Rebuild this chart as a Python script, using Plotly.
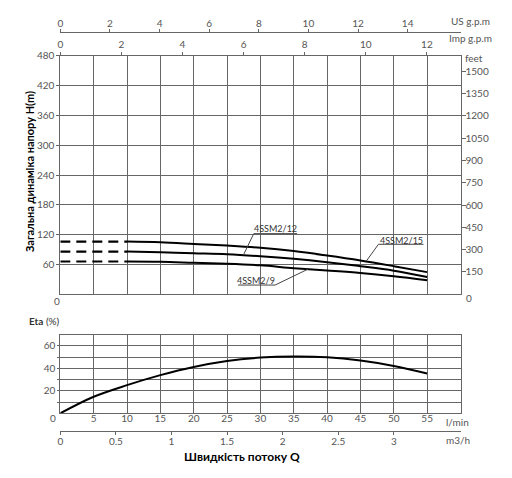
import plotly.graph_objects as go

W, H = 512, 478

# Pump head curves: flow in l/min, head in m
flow = [0, 10, 15, 20, 25, 30, 35, 40, 45, 50, 55]
head_15 = [106, 106, 104.6, 101.4, 98, 93.6, 87, 78, 68, 56.6, 44.6]
head_12 = [86, 86, 84.6, 82.6, 80.6, 76.6, 71.4, 64.6, 56.6, 47.6, 35]
head_9 = [66, 66, 65.4, 63.4, 61.4, 58.2, 52.6, 48, 43, 36.4, 28.4]
n_dashed = 2  # first two points (0..10 l/min) are drawn dashed

# Efficiency curve
eta_flow = [0, 5, 10, 15, 20, 25, 30, 35, 40, 45, 50, 55]
eta = [0, 14.7, 25, 33.9, 41.2, 46.5, 49.5, 50.5, 49.8, 46.9, 42.1, 35.4]

# curve labels: name, text position, leader line (l/min, m)
model_names = ["4SSM2/15", "4SSM2/12", "4SSM2/9"]
label_pos = [(51.2, 109), (32.3, 132), (29.4, 28.6)]
leader_x = [[54.45, 47.7, 45.9], [35.5, 29.0, 27.45], [26.65, 32.2, 37.1]]
leader_y = [[100.6, 100.6, 67.2], [122, 122, 78.8], [18.6, 18.6, 50.4]]

# tick values
head_ticks = [60, 120, 180, 240, 300, 360, 420, 480]
feet_ticks = [150, 300, 450, 600, 750, 900, 1050, 1200, 1350, 1500]
us_ticks = [0, 2, 4, 6, 8, 10, 12, 14]
imp_ticks = [0, 2, 4, 6, 8, 10, 12]
lpm_ticks = [5, 10, 15, 20, 25, 30, 35, 40, 45, 50, 55]
eta_ticks = [10, 20, 30, 40, 50, 60]
eta_text = ["", "20", "", "40", "", "60"]
m3h_ticks = [0, 0.5, 1, 1.5, 2, 2.5, 3]

# unit scales as drawn on the chart
LPM_PER_US_GPM = 3.72
LPM_PER_IMP_GPM = 4.58
FT_PER_M = 3.34
LPM_PER_M3H = 16.667
Q_MAX = 60


def px(x):
    return x / W


def py(y):
    return 1 - y / H


X_DOM = [px(60.3), px(460.5)]
Y_TOP = [py(294.3), py(55.7)]
Y_BOT = [py(413.3), py(334.5)]

GRID = "#666"
LINE = "#666"
TXT = "#555"
FONT = "Lato, sans-serif"
tickfont = dict(family=FONT, size=10, color=TXT)

fig = go.Figure()

for h in [head_15, head_12, head_9]:
    fig.add_trace(go.Scatter(x=flow[:n_dashed], y=h[:n_dashed], mode="lines",
                             line=dict(color="black", width=2.2, dash="10px,6px"),
                             xaxis="x", yaxis="y", hoverinfo="skip"))
    fig.add_trace(go.Scatter(x=flow[n_dashed - 1:], y=h[n_dashed - 1:], mode="lines",
                             line=dict(color="black", width=2, shape="spline"),
                             xaxis="x", yaxis="y", hoverinfo="skip"))

for lx, ly in zip(leader_x, leader_y):
    fig.add_trace(go.Scatter(x=lx, y=ly, mode="lines", line=dict(color="#444", width=1),
                             xaxis="x", yaxis="y", hoverinfo="skip"))

fig.add_trace(go.Scatter(x=eta_flow, y=eta, mode="lines",
                         line=dict(color="black", width=2, shape="spline"),
                         xaxis="x2", yaxis="y3", hoverinfo="skip"))

# invisible traces so the secondary unit axes get drawn
for xa, ya in [("x3", "y"), ("x4", "y"), ("x", "y2"), ("x5", "y3")]:
    fig.add_trace(go.Scatter(x=[0], y=[0], mode="markers", marker=dict(opacity=0),
                             xaxis=xa, yaxis=ya, hoverinfo="skip"))

annotations = []
for name, (tx, ty) in zip(model_names, label_pos):
    annotations.append(dict(x=tx, y=ty, xref="x", yref="y", text=name, showarrow=False,
                            xanchor="center", yanchor="middle",
                            font=dict(family=FONT, size=9, color="#333")))


def note(text, x, y, size=10, color=TXT, **kw):
    annotations.append(dict(x=px(x), y=py(y), xref="paper", yref="paper", text=text,
                            showarrow=False, xanchor="center", yanchor="middle",
                            font=dict(family=FONT, size=size, color=color), **kw))


note("<b>Загальна динаміка напору H(m)</b>", 30, 172, size=11, color="black",
     textangle=-90)
note("0", 56.7, 300.7)
note("0", 469, 298)
note("feet", 474, 57.5)
note("US g.p.m", 470, 21)
note("Imp g.p.m", 470, 38)
note("<b>Eta</b> (%)", 44.5, 321, color="#333")
note("0", 53.3, 418.3)
note("l/min", 457, 421.7)
note("m3/h", 458, 440)
note("<b>Швидкість потоку Q</b>", 241.7, 456.7, size=12, color="black")

common = dict(automargin=False, zeroline=False, tickfont=tickfont, tickcolor=LINE)

fig.update_layout(
    width=W, height=H, autosize=False,
    margin=dict(l=0, r=0, t=0, b=0, pad=0),
    paper_bgcolor="white", plot_bgcolor="white",
    showlegend=False,
    annotations=annotations,
    xaxis=dict(domain=X_DOM, range=[0, Q_MAX], anchor="y", tick0=0, dtick=5,
               showgrid=True, gridcolor=GRID, gridwidth=1, showticklabels=False,
               showline=True, linecolor=LINE, mirror=True, ticks="", **common),
    yaxis=dict(domain=Y_TOP, range=[0, 480], anchor="x", tickvals=head_ticks,
               showgrid=True, gridcolor=GRID, showline=True, linecolor=LINE, mirror=True,
               ticks="outside", ticklen=3, **common),
    xaxis3=dict(overlaying="x", side="top", anchor="y", range=[0, Q_MAX / LPM_PER_IMP_GPM],
                tickvals=imp_ticks, ticks="outside", ticklen=3,
                showgrid=False, showline=False, **common),
    xaxis4=dict(overlaying="x", side="top", anchor="free", position=py(31.7),
                range=[0, Q_MAX / LPM_PER_US_GPM], tickvals=us_ticks, ticks="outside",
                ticklen=3, ticklabelstandoff=-2, showgrid=False, showline=True,
                linecolor=LINE, **common),
    yaxis2=dict(overlaying="y", side="right", anchor="x", range=[0, 480 * FT_PER_M],
                tickvals=feet_ticks, ticks="outside", ticklen=4, ticklabelstandoff=-2,
                showgrid=False, showline=False, **common),
    xaxis2=dict(domain=X_DOM, range=[0, Q_MAX], anchor="y3", tickvals=lpm_ticks,
                showgrid=True, gridcolor=GRID, showline=True, linecolor=LINE, mirror=True,
                ticks="", ticklabelstandoff=-4, **common),
    yaxis3=dict(domain=Y_BOT, range=[0, 70], anchor="x2", tickvals=eta_ticks,
                ticktext=eta_text, showgrid=True, gridcolor=GRID, showline=True,
                linecolor=LINE, mirror=True, ticks="outside", ticklen=2, **common),
    xaxis5=dict(overlaying="x2", side="bottom", anchor="free", position=py(430.7),
                range=[0, Q_MAX / LPM_PER_M3H], tickvals=m3h_ticks, ticks="outside",
                ticklen=3, ticklabelstandoff=-2, showgrid=False, showline=True,
                linecolor=LINE, **common),
)

# drop the page's default body margin so the figure sits at the window's corner
fig.write_html("out.html", config={"displayModeBar": False},
               post_script="document.body.style.margin='0';")
